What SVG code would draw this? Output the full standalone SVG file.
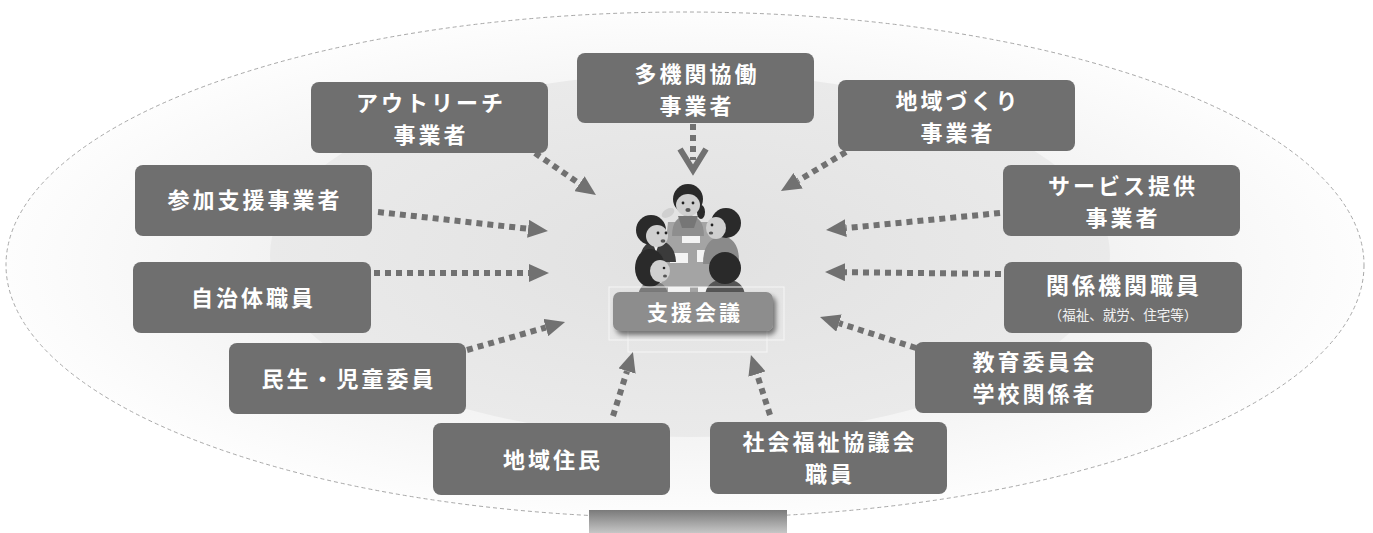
<svg xmlns="http://www.w3.org/2000/svg" width="1373" height="533" viewBox="0 0 1373 533">
  <style>
    .box { fill: #6f6f6f; }
    .t { font-family: "Noto Sans CJK JP", "Noto Sans", sans-serif; font-weight: 700; font-size: 22px; fill: #ffffff; text-anchor: middle; dominant-baseline: central; letter-spacing: 3px; }
    .s { font-family: "Noto Sans CJK JP", "Noto Sans", sans-serif; font-weight: 400; font-size: 13.5px; fill: #f2f2f2; text-anchor: middle; dominant-baseline: central; }
    .lbl { font-family: "Noto Sans CJK JP", "Noto Sans", sans-serif; font-weight: 700; font-size: 21px; fill: #ffffff; text-anchor: middle; dominant-baseline: central; letter-spacing: 3px; }
    .arr { fill: none; stroke: #717171; stroke-width: 6; stroke-dasharray: 6 5; marker-end: url(#head); }
    .hair { fill: #2a2a2a; }
    .skin { fill: #d0d0d0; }
    .eye { fill: #222222; }
    .paper { fill: #f3f3f3; }
  </style>
  <defs>
    <radialGradient id="outerFill" cx="0.5" cy="0.5" r="0.5">
      <stop offset="0" stop-color="#e8e8e8"/>
      <stop offset="0.6" stop-color="#f2f2f2"/>
      <stop offset="1" stop-color="#fdfdfd"/>
    </radialGradient>
    <radialGradient id="innerFill" cx="0.5" cy="0.5" r="0.5">
      <stop offset="0" stop-color="#e1e1e1"/>
      <stop offset="1" stop-color="#eaeaea"/>
    </radialGradient>
    <linearGradient id="baseFill" x1="0" y1="0" x2="0" y2="1">
      <stop offset="0" stop-color="#7a7a7a"/>
      <stop offset="1" stop-color="#c6c6c6"/>
    </linearGradient>
    <filter id="shadow" x="-20%" y="-30%" width="150%" height="180%">
      <feGaussianBlur in="SourceAlpha" stdDeviation="2.5"/>
      <feOffset dx="3" dy="4" result="b"/>
      <feComponentTransfer><feFuncA type="linear" slope="0.5"/></feComponentTransfer>
      <feMerge><feMergeNode/><feMergeNode in="SourceGraphic"/></feMerge>
    </filter>
    <filter id="soft"><feGaussianBlur stdDeviation="0.6"/></filter>
    <marker id="head" viewBox="0 0 20 18" refX="0" refY="9" markerWidth="20" markerHeight="18" markerUnits="userSpaceOnUse" orient="auto">
      <path d="M0,0 L20,9 L0,18 z" fill="#717171"/>
    </marker>
  </defs>

  <!-- background: outer dashed ellipse, inner shaded area, base plate -->
  <g id="background">
    <ellipse cx="685" cy="265" rx="679" ry="253" fill="url(#outerFill)" stroke="#a8a8a8" stroke-width="1" stroke-dasharray="4 3"/>
    <ellipse cx="690" cy="255" rx="420" ry="182" fill="url(#innerFill)"/>
    <rect x="589" y="510" width="198" height="23" fill="url(#baseFill)"/>
  </g>

  <!-- meeting illustration -->
  <g id="meeting" filter="url(#soft)">
    <path d="M668,222 L712,222 L720,296 L660,296 z" fill="#a4a4a4"/>
    <rect class="paper" x="682" y="233" width="18" height="10"/>
    <rect class="paper" x="670" y="253" width="18" height="10"/>
    <rect class="paper" x="697" y="250" width="11" height="12"/>
    <rect class="paper" x="668" y="287" width="22" height="6"/>
    <rect class="paper" x="698" y="287" width="22" height="6"/>
    <!-- top person -->
    <path d="M672,236 Q672,216 688,215 Q704,216 704,236 z" fill="#8e8e8e"/>
    <path d="M678,216 L698,216 L694,228 L682,228 z" fill="#767676"/>
    <ellipse cx="668" cy="213" rx="7" ry="4" transform="rotate(-30 668 213)" class="skin"/>
    <circle cx="688" cy="199" r="15" class="hair"/>
    <ellipse cx="701" cy="212" rx="4" ry="7" class="hair"/>
    <ellipse cx="688" cy="205" rx="12" ry="11" class="skin"/>
    <circle cx="683" cy="203" r="1.4" class="eye"/>
    <circle cx="693" cy="203" r="1.4" class="eye"/>
    <ellipse cx="688" cy="210" rx="2.6" ry="2" fill="#555"/>
    <!-- left person -->
    <path d="M640,262 Q640,242 657,240 Q675,242 676,262 z" fill="#3a3a3a"/>
    <path d="M652,241 L660,241 L656,252 z" fill="#eeeeee"/>
    <circle cx="651" cy="230" r="15" class="hair"/>
    <ellipse cx="657" cy="236" rx="11" ry="11" class="skin"/>
    <circle cx="658" cy="233" r="1.4" class="eye"/>
    <circle cx="666" cy="233" r="1.4" class="eye"/>
    <ellipse cx="663" cy="241" rx="2.4" ry="1.8" fill="#555"/>
    <!-- right person -->
    <path d="M703,264 Q703,238 722,236 Q740,238 739,264 z" fill="#8a8a8a"/>
    <circle cx="726" cy="223" r="15" class="hair"/>
    <ellipse cx="716" cy="228" rx="10" ry="11" class="skin"/>
    <circle cx="712" cy="225" r="1.4" class="eye"/>
    <ellipse cx="711" cy="233" rx="2.2" ry="1.6" fill="#555"/>
    <!-- lower left person -->
    <path d="M638,296 Q640,282 653,281 Q667,282 668,296 z" fill="#7a7a7a"/>
    <ellipse cx="650" cy="268" rx="15" ry="19" class="hair"/>
    <ellipse cx="660" cy="271" rx="10" ry="11" class="skin"/>
    <circle cx="664" cy="268" r="1.3" class="eye"/>
    <ellipse cx="665" cy="276" rx="2" ry="1.5" fill="#555"/>
    <!-- lower right person (seen from behind) -->
    <path d="M705,296 Q706,280 725,279 Q744,280 745,296 z" fill="#555555"/>
    <circle cx="725" cy="268" r="16" class="hair"/>
  </g>

  <!-- central label -->
  <g id="support-meeting">
    <rect x="609" y="287" width="175" height="53" fill="none" stroke="#f6f6f6" stroke-width="1"/>
    <rect x="628" y="300" width="139" height="52" fill="none" stroke="#f6f6f6" stroke-width="1"/>
    <rect x="613" y="292" width="160" height="39" rx="7" fill="#8d8d8d" filter="url(#shadow)"/>
    <text class="lbl" x="695" y="311">支援会議</text>
  </g>

  <!-- connectors -->
  <g id="connectors">
    <line x1="693" y1="124" x2="693" y2="160" fill="none" stroke="#717171" stroke-width="6" stroke-dasharray="6 5"/>
    <polyline points="680,149 693,170 706,149" fill="none" stroke="#717171" stroke-width="6"/>
    <line class="arr" x1="535" y1="153" x2="579.5" y2="183.7"/>
    <line class="arr" x1="846" y1="152" x2="798.1" y2="180.7"/>
    <line class="arr" x1="378" y1="212" x2="528.1" y2="228.8"/>
    <line class="arr" x1="1000" y1="213" x2="845.9" y2="228.1"/>
    <line class="arr" x1="374" y1="273" x2="529" y2="273"/>
    <line class="arr" x1="1001" y1="274" x2="845" y2="272.2"/>
    <line class="arr" x1="467" y1="350" x2="545.8" y2="327.5"/>
    <line class="arr" x1="916" y1="348" x2="839" y2="323.1"/>
    <line class="arr" x1="613" y1="416" x2="627" y2="371.1"/>
    <line class="arr" x1="770" y1="415" x2="757" y2="374.1"/>
  </g>

  <!-- participant nodes -->
  <g id="n-tasoku">
    <rect class="box" x="577" y="53" width="237" height="70" rx="8"/>
    <text class="t" x="697" y="72">多機関協働</text>
    <text class="t" x="697" y="104">事業者</text>
  </g>
  <g id="n-outreach">
    <rect class="box" x="311" y="82" width="237" height="71" rx="8"/>
    <text class="t" x="431" y="101">アウトリーチ</text>
    <text class="t" x="431" y="133">事業者</text>
  </g>
  <g id="n-chiiki-zukuri">
    <rect class="box" x="838" y="80" width="237" height="71" rx="8"/>
    <text class="t" x="958" y="99">地域づくり</text>
    <text class="t" x="958" y="131">事業者</text>
  </g>
  <g id="n-sanka">
    <rect class="box" x="135" y="165" width="237" height="71" rx="8"/>
    <text class="t" x="255" y="198">参加支援事業者</text>
  </g>
  <g id="n-service">
    <rect class="box" x="1003" y="165" width="237" height="71" rx="8"/>
    <text class="t" x="1123" y="184">サービス提供</text>
    <text class="t" x="1123" y="216">事業者</text>
  </g>
  <g id="n-jichitai">
    <rect class="box" x="133" y="262" width="238" height="71" rx="8"/>
    <text class="t" x="253.5" y="296">自治体職員</text>
  </g>
  <g id="n-kankei">
    <rect class="box" x="1004" y="262" width="238" height="71" rx="8"/>
    <text class="t" x="1124" y="284" style="font-size:23px">関係機関職員</text>
    <text class="s" x="1123" y="314">（福祉、就労、住宅等）</text>
  </g>
  <g id="n-minsei">
    <rect class="box" x="229" y="343" width="237" height="71" rx="8"/>
    <text class="t" x="349" y="377">民生・児童委員</text>
  </g>
  <g id="n-kyoiku">
    <rect class="box" x="915" y="342" width="237" height="71" rx="8"/>
    <text class="t" x="1035" y="360">教育委員会</text>
    <text class="t" x="1035" y="392">学校関係者</text>
  </g>
  <g id="n-jumin">
    <rect class="box" x="433" y="423" width="237" height="72" rx="8"/>
    <text class="t" x="553" y="458">地域住民</text>
  </g>
  <g id="n-shakyo">
    <rect class="box" x="710" y="422" width="237" height="72" rx="8"/>
    <text class="t" x="830" y="440">社会福祉協議会</text>
    <text class="t" x="830" y="472">職員</text>
  </g>
</svg>
